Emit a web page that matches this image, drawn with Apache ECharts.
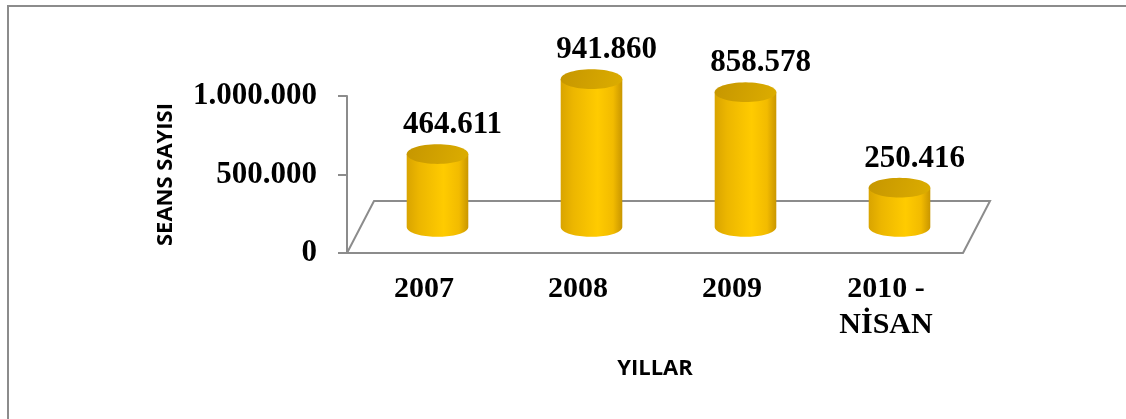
<!DOCTYPE html>
<html>
<head>
<meta charset="utf-8">
<script src="https://cdn.jsdelivr.net/npm/echarts@6/dist/echarts.min.js"></script>
<style>
  html, body { margin: 0; padding: 0; background: #fff; }
  #chart { width: 1126px; height: 419px; }
</style>
</head>
<body>
<div id="chart"></div>
<script>
// Seans sayisi by year
const years = ['2007', '2008', '2009', '2010 -\nNİSAN'];
const seans = [464611, 941860, 858578, 250416];
const yMax = 1000000;
const yStep = 500000;

// 3D floor depth (pixels)
const DEPTH_X = 27;
const DEPTH_Y = 52;

const fmt = function (n) {
    return String(n).replace(/\B(?=(\d{3})+(?!\d))/g, '.');
};

const ellipsePts = function (cx, cy, rx, ry, from, to, steps) {
    const pts = [];
    for (let i = 0; i <= steps; i++) {
        const t = from + (to - from) * i / steps;
        pts.push([cx + rx * Math.cos(t), cy + ry * Math.sin(t)]);
    }
    return pts;
};

// floor of the 3D plot (back + side edges)
const renderFloor = function (params, api) {
    const c = params.coordSys;
    const fy = c.y + c.height;
    return {
        type: 'polyline',
        shape: {
            points: [
                [c.x, fy],
                [c.x + DEPTH_X, fy - DEPTH_Y],
                [c.x + c.width + DEPTH_X, fy - DEPTH_Y],
                [c.x + c.width, fy]
            ]
        },
        style: { stroke: '#8c8c8c', lineWidth: 2, fill: null }
    };
};

// one cylinder per year
const renderCylinder = function (params, api) {
    const base = api.coord([api.value(0), 0]);
    const top = api.coord([api.value(0), api.value(1)]);
    const band = api.size([1, 0])[0];
    const rx = band * 0.2;
    const ry = rx * 0.32;
    const cx = base[0] + DEPTH_X / 2;
    const by = base[1] - DEPTH_Y / 2;
    const ty = top[1] - DEPTH_Y / 2;

    const body = [[cx - rx, ty]].concat(ellipsePts(cx, by, rx, ry, Math.PI, 0, 40));
    body.push([cx + rx, ty]);

    return {
        type: 'group',
        children: [
            {
                type: 'polygon',
                shape: { points: body },
                style: {
                    fill: {
                        type: 'linear', x: 0, y: 0, x2: 1, y2: 0,
                        colorStops: [
                            { offset: 0, color: '#D9A400' },
                            { offset: 0.2, color: '#ECB600' },
                            { offset: 0.6, color: '#FFCB00' },
                            { offset: 0.85, color: '#F2BB00' },
                            { offset: 1, color: '#C99600' }
                        ]
                    }
                }
            },
            {
                type: 'polygon',
                shape: { points: ellipsePts(cx, ty, rx, ry, 0, Math.PI * 2, 60) },
                style: {
                    fill: {
                        type: 'linear', x: 0, y: 0, x2: 1, y2: 1,
                        colorStops: [
                            { offset: 0, color: '#C69600' },
                            { offset: 1, color: '#DCAD00' }
                        ]
                    }
                }
            },
            {
                type: 'text',
                x: cx + 15,
                y: ty - 29,
                style: {
                    text: fmt(api.value(1)),
                    font: 'bold 31px "Liberation Serif"',
                    fill: '#000',
                    align: 'center',
                    verticalAlign: 'middle'
                }
            }
        ]
    };
};

const chart = echarts.init(document.getElementById('chart'));

const option = {
    backgroundColor: '#fff',
    animation: false,
    graphic: [{
        type: 'rect',
        shape: { x: 8, y: 6, width: 1140, height: 440 },
        style: { fill: null, stroke: '#8c8c8c', lineWidth: 2 },
        silent: true
    }],
    grid: {
        left: 347,
        top: 96,
        width: 616,
        height: 157,
        containLabel: false,
        outerBoundsMode: 'none'
    },
    xAxis: {
        type: 'category',
        data: years,
        name: 'YILLAR',
        nameLocation: 'middle',
        nameGap: 105,
        nameTextStyle: {
            fontFamily: 'Open Sans',
            fontWeight: 'bold',
            fontSize: 22,
            lineHeight: 22,
            color: '#000'
        },
        axisLine: { lineStyle: { color: '#8c8c8c', width: 2 } },
        axisTick: { show: false },
        axisLabel: {
            margin: 18,
            fontFamily: 'Liberation Serif',
            fontWeight: 'bold',
            fontSize: 30,
            lineHeight: 36,
            color: '#000',
            interval: 0
        }
    },
    yAxis: {
        type: 'value',
        min: 0,
        max: yMax,
        interval: yStep,
        name: 'SEANS SAYISI',
        nameLocation: 'middle',
        nameRotate: 90,
        nameGap: 170,
        nameTextStyle: {
            fontFamily: 'Open Sans',
            fontWeight: 'bold',
            fontSize: 22,
            lineHeight: 22,
            color: '#000'
        },
        splitLine: { show: false },
        axisLine: { show: true, lineStyle: { color: '#8c8c8c', width: 2 } },
        axisTick: { show: true, length: 9, lineStyle: { color: '#8c8c8c', width: 2 } },
        axisLabel: {
            margin: 30,
            fontFamily: 'Liberation Serif',
            fontWeight: 'bold',
            fontSize: 31,
            color: '#000',
            formatter: fmt
        }
    },
    series: [
        {
            type: 'custom',
            renderItem: renderFloor,
            data: [[0, 0]],
            z: 1,
            silent: true
        },
        {
            type: 'custom',
            renderItem: renderCylinder,
            data: seans.map(function (v, i) { return [i, v]; }),
            encode: { x: 0, y: 1 },
            z: 2
        }
    ]
};

chart.setOption(option);
</script>
</body>
</html>
